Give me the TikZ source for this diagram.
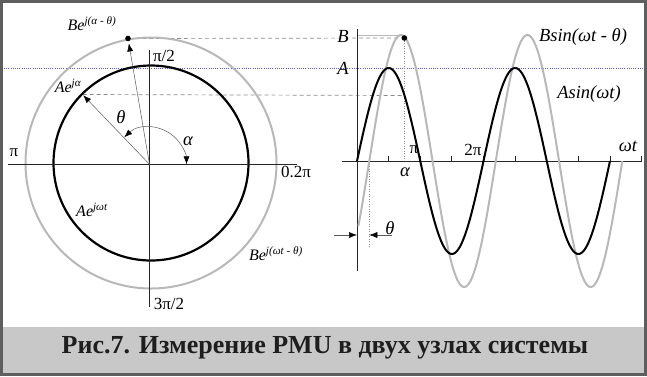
\documentclass[tikz,border=0pt]{standalone}
\usepackage{fontspec}
\setmainfont{Liberation Serif}
\usetikzlibrary{arrows.meta}
\definecolor{framec}{HTML}{5E5E5E}
\definecolor{bandc}{HTML}{C8C8C8}
\definecolor{lgray}{HTML}{B8B8B8}
\definecolor{dgray}{HTML}{8A8A8A}
\definecolor{bluedot}{HTML}{5A5AE6}
\definecolor{captc}{HTML}{1E1E1E}
\begin{document}
\begin{tikzpicture}[x=1pt,y=-1pt,
  lbl/.style={inner sep=0pt, font=\fontsize{18.5}{18.5}\selectfont\itshape},
  slbl/.style={inner sep=0pt, font=\fontsize{16}{16}\selectfont\itshape},
  axlbl/.style={inner sep=0pt, font=\fontsize{17}{17}\selectfont},
  axisline/.style={line width=0.8pt, black!85},
  tiparrow/.style={-{Latex[length=8pt,width=6pt,color=black]}},
  vecline/.style={line width=0.5pt, black!65},
  dashline/.style={dgray, line width=0.7pt, dash pattern=on 4pt off 3pt},
  dotline/.style={dgray, line width=0.7pt, dash pattern=on 1pt off 1.5pt},
  blueline/.style={bluedot, line width=0.6pt, dash pattern=on 1pt off 1.2pt}]
\useasboundingbox (0,0) rectangle (647,376);
% caption band and frame
\fill[bandc] (3,327) rectangle (644,373);
\draw[framec, line width=3pt] (1.5,1.5) rectangle (645.5,374.5);
\node[inner sep=0pt, text=captc, font=\fontsize{26}{26}\selectfont\bfseries] (cap) at (325,348) {Рис.7. Измерение PMU в двух узлах системы};
% coordinates
\coordinate (C) at (151,163);
\coordinate (O) at (149.5,164.3);
\coordinate (Bp) at (128,38.5);
\coordinate (Ap) at (82.5,94.5);
\coordinate (O2) at (357,161);
\coordinate (Bd) at (404.4,38);
\coordinate (Ad) at (404.4,95.5);
% guide lines
\coordinate (bl1) at (4,68.5);
\coordinate (bl2) at (643,68.5);
\draw[blueline] (bl1) -- (bl2);
\draw[dashline] (Bp) -- (Bd);
\draw[dashline] (Ap) -- (Ad);
\coordinate (Bt1) at (357,35);
\coordinate (Bt2) at (401,35);
\draw[lgray, line width=0.8pt] (Bt1) -- (Bt2);
\coordinate (al0) at (404.4,161);
\draw[dotline] (Bd) -- (al0);
\coordinate (th0) at (369.3,161);
\coordinate (th1) at (369.3,248);
\draw[dotline] (th0) -- (th1);
% circles
\draw[lgray, line width=2pt] (C) circle[radius=125.5];
\draw[black, line width=2.2pt] (C) circle[radius=97.5];
% left axes
\coordinate (hl) at (8,164.3);
\coordinate (hr) at (297,164.3);
\coordinate (vt) at (149.5,50);
\coordinate (vb) at (149.5,307);
\draw[axisline] (hl) -- (hr);
\draw[axisline] (vt) -- (vb);
% vectors
\draw[vecline, tiparrow, shorten >=5pt] (O) -- (Bp);
\draw[vecline, tiparrow, shorten >=1pt] (O) -- (Ap);
\fill (Bp) circle[radius=2.8];
\draw[vecline, {Latex[length=8pt,width=6pt,color=black]}-{Latex[length=8pt,width=6pt,color=black]}] ([shift={(-133:37)}]O) arc[start angle=-133, end angle=0, radius=37];
% left labels
\node[axlbl] (lpi2) at (164,56) {π/2};
\node[axlbl] (lpi) at (14,153) {π};
\node[axlbl] (l02) at (296,172) {0.2π};
\node[axlbl] (l32) at (169,304) {3π/2};
\node[lbl] (lal) at (188,141) {α};
\node[lbl] (lth) at (121,117) {θ};
\node[slbl] (lBe) at (92,24) {Be\textsuperscript{j(α - θ)}};
\node[slbl] (lAe) at (68,86) {Ae\textsuperscript{jα}};
\node[slbl] (lAw) at (92,210) {Ae\textsuperscript{jωt}};
\node[slbl] (lBw) at (276,254) {Be\textsuperscript{j(ωt - θ)}};
% right axes
\coordinate (xl) at (342,161);
\coordinate (xr) at (641.6,161);
\coordinate (yt) at (357,29);
\coordinate (yb) at (357,271);
\draw[axisline] (xl) -- (xr);
\draw[axisline] (yt) -- (yb);
\foreach \k in {1,...,9} {
  \draw[axisline] ({357+\k*31.625},161) -- ({357+\k*31.625},155.5);
}
% sine curves
\draw[lgray, line width=2pt, line join=round] plot[domain=4:755, samples=220, smooth] ({357+\x*0.351389},{161-126*sin(\x-35)});
\draw[black, line width=2pt, line join=round] plot[domain=0:720, samples=220, smooth] ({357+\x*0.351389},{161-93*sin(\x)});
\fill (Bd) circle[radius=2.8];
% theta marker
\coordinate (ta1) at (334,235);
\coordinate (ta2) at (357,235);
\coordinate (tb1) at (392,235);
\coordinate (tb2) at (369.3,235);
\draw[vecline, tiparrow] (ta1) -- (ta2);
\draw[vecline, tiparrow] (tb1) -- (tb2);
% right labels
\node[lbl] (rB) at (343,36) {B};
\node[lbl] (rA) at (343,68) {A};
\node[axlbl] (rpi) at (414,150) {π};
\node[axlbl] (r2pi) at (473,150) {2π};
\node[lbl] (ral) at (405,172) {α};
\node[lbl] (rwt) at (628,146) {ωt};
\node[lbl] (rBs) at (583,37) {Bsin(ωt - θ)};
\node[lbl] (rAs) at (589,94) {Asin(ωt)};
\node[lbl] (rth) at (390,228) {θ};
\end{tikzpicture}
\end{document}
